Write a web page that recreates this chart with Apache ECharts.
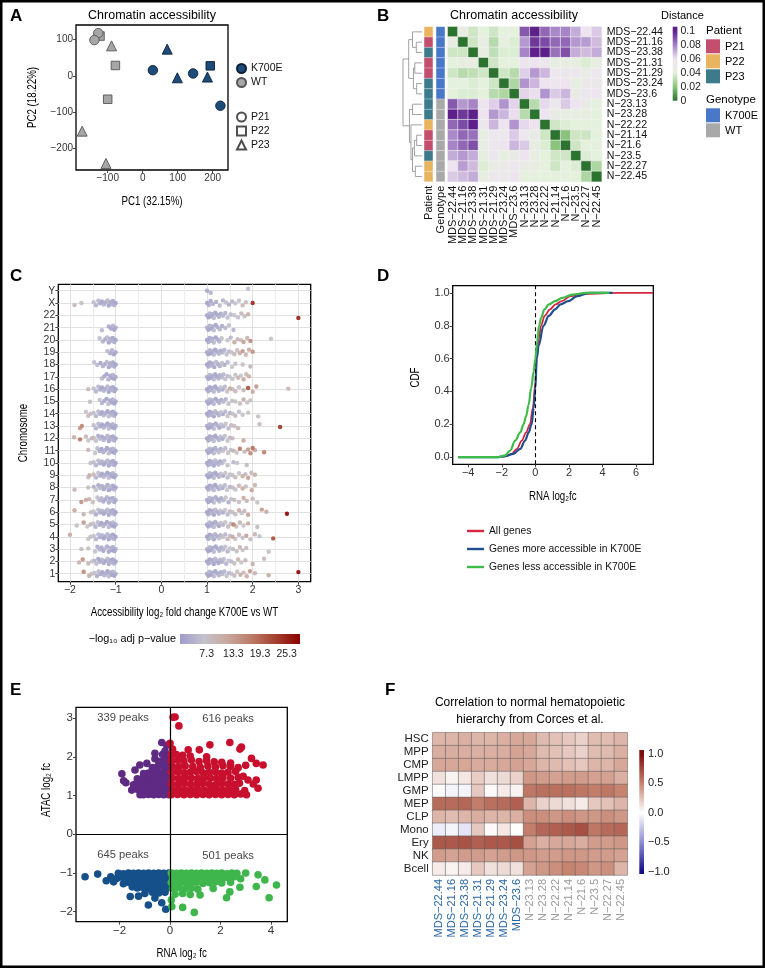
<!DOCTYPE html>
<html>
<head>
<meta charset="utf-8">
<script src="https://cdn.jsdelivr.net/npm/echarts@6.0.0/dist/echarts.min.js"></script>
<style>
html,body{margin:0;padding:0;background:#fff;}
#chart{width:765px;height:968px;}
</style>
</head>
<body>
<div id="chart"></div>
<script>
// ======================= DATA =======================
// Shared samples (order of panels B and F)
const sampleNames = ['MDS-22.44','MDS-21.16','MDS-23.38','MDS-21.31','MDS-21.29','MDS-23.24','MDS-23.6','N-23.13','N-23.28','N-22.22','N-21.14','N-21.6','N-23.5','N-22.27','N-22.45'];
const samplePatient = ['P22','P21','P23','P21','P21','P23','P23','P23','P23','P22','P21','P21','P23','P22','P22'];
const sampleGenotype = ['K700E','K700E','K700E','K700E','K700E','K700E','K700E','WT','WT','WT','WT','WT','WT','WT','WT'];
const patientNames = ['P21','P22','P23'];
const genotypeNames = ['K700E','WT'];

// A: PCA scores per sample
const pc1 = [193, 29, 70, 144, 222, 99, 185, -89, -173, -122, -127, -138, -105, -78, -100];
const pc2 = [28, 16, 74, 7, -82, -5, -3, 83, -152, 110, 118, 99, -241, 29, -64];
const pcTicksX = [-100, 0, 100, 200];
const pcTicksY = [-200, -100, 0, 100];

// B: distance matrix
const distanceMatrix = [
  [0, .045, .035, .04, .035, .04, .04, .088, .1, .085, .078, .079, .071, .06, .065],
  [.045, 0, .035, .045, .03, .042, .038, .075, .095, .091, .085, .085, .075, .074, .068],
  [.035, .035, 0, .045, .032, .038, .038, .079, .1, .1, .083, .09, .071, .068, .071],
  [.04, .045, .045, 0, .035, .04, .04, .057, .058, .055, .045, .045, .043, .038, .045],
  [.035, .03, .032, .035, 0, .035, .03, .064, .075, .069, .055, .056, .055, .049, .055],
  [.04, .042, .038, .04, .035, 0, .028, .076, .069, .058, .055, .058, .044, .053, .053],
  [.04, .038, .038, .04, .03, .028, 0, .063, .061, .076, .065, .069, .048, .055, .058],
  [.088, .075, .079, .057, .064, .076, .063, 0, .03, .062, .056, .065, .058, .048, .042],
  [.1, .095, .1, .058, .075, .069, .061, .03, 0, .06, .048, .046, .045, .045, .04],
  [.085, .091, .1, .055, .069, .058, .076, .062, .06, 0, .035, .038, .04, .04, .04],
  [.078, .085, .083, .045, .055, .055, .065, .056, .048, .035, 0, .02, .035, .035, .04],
  [.079, .085, .09, .045, .056, .058, .069, .065, .046, .038, .02, 0, .035, .04, .042],
  [.071, .075, .071, .043, .055, .044, .048, .058, .045, .04, .035, .035, 0, .038, .04],
  [.06, .074, .068, .038, .049, .053, .055, .048, .045, .04, .035, .04, .038, 0, .028],
  [.065, .068, .071, .045, .055, .053, .058, .042, .04, .04, .04, .042, .04, .028, 0]
];
// hierarchical clustering merges: [nodeA, nodeB, height]; leaves 0-14, new nodes 15+
const dendroMerges = [
  [1, 2, 0.30], [0, 15, 0.50], [3, 4, 0.38], [5, 6, 0.28], [17, 18, 0.45], [16, 19, 0.70],
  [7, 8, 0.50], [10, 11, 0.28], [22, 12, 0.40], [13, 14, 0.35], [23, 24, 0.50], [9, 25, 0.58],
  [21, 26, 0.66], [20, 27, 1.0]
];
const distanceTicks = [0, 0.02, 0.04, 0.06, 0.08, 0.1];

// C: differential peaks per chromosome [log2FC, -log10 adj p]
const chromLabels = ['1','2','3','4','5','6','7','8','9','10','11','12','13','14','15','16','17','18','19','20','21','22','X','Y'];
const peaksDown = [
  [[-1.0,3],[-1.03,2],[-1.06,4],[-1.09,2],[-1.12,3],[-1.15,5],[-1.18,2],[-1.21,3],[-1.25,4],[-1.29,2],[-1.33,3],[-1.37,5],[-1.41,3],[-1.46,6],[-1.52,8],[-1.58,11],[-1.7,16]],
  [[-1.0,2],[-1.03,3],[-1.06,2],[-1.09,4],[-1.12,2],[-1.15,3],[-1.18,5],[-1.22,2],[-1.26,3],[-1.3,4],[-1.34,3],[-1.38,2],[-1.42,5],[-1.47,4],[-1.52,7],[-1.6,9],[-1.72,15],[-1.8,10]],
  [[-1.0,3],[-1.03,2],[-1.06,3],[-1.09,2],[-1.12,4],[-1.15,2],[-1.19,3],[-1.23,5],[-1.27,2],[-1.31,3],[-1.35,4],[-1.4,3],[-1.45,6],[-1.6,8],[-1.75,9]],
  [[-1.0,2],[-1.03,3],[-1.06,2],[-1.09,4],[-1.12,3],[-1.15,2],[-1.18,5],[-1.22,3],[-1.26,2],[-1.3,4],[-1.34,3],[-1.38,5],[-1.43,4],[-1.48,6],[-1.55,8],[-1.6,7],[-2.0,12]],
  [[-1.0,3],[-1.03,2],[-1.06,4],[-1.09,2],[-1.12,3],[-1.15,5],[-1.19,2],[-1.23,3],[-1.27,4],[-1.31,2],[-1.35,3],[-1.39,5],[-1.44,4],[-1.49,6],[-1.55,9],[-1.62,7],[-1.7,14],[-1.85,8]],
  [[-1.0,2],[-1.03,3],[-1.06,2],[-1.09,4],[-1.12,3],[-1.15,2],[-1.18,5],[-1.22,3],[-1.26,2],[-1.3,4],[-1.34,3],[-1.38,5],[-1.43,3],[-1.48,6],[-1.54,8],[-1.7,10],[-1.9,12]],
  [[-1.0,3],[-1.03,2],[-1.06,3],[-1.09,5],[-1.12,2],[-1.15,3],[-1.19,4],[-1.23,2],[-1.27,3],[-1.31,5],[-1.35,4],[-1.4,6],[-1.5,8],[-1.58,10],[-1.65,12],[-1.75,15]],
  [[-1.0,2],[-1.03,4],[-1.06,2],[-1.09,3],[-1.12,5],[-1.15,2],[-1.18,3],[-1.22,4],[-1.26,2],[-1.3,3],[-1.34,5],[-1.38,3],[-1.43,6],[-1.48,4],[-1.6,8],[-1.9,10]],
  [[-1.0,3],[-1.03,2],[-1.06,4],[-1.09,2],[-1.12,3],[-1.15,5],[-1.18,2],[-1.22,3],[-1.26,4],[-1.3,2],[-1.34,3],[-1.38,6],[-1.43,4],[-1.48,9],[-1.57,11],[-1.6,8]],
  [[-1.0,2],[-1.03,3],[-1.06,2],[-1.09,4],[-1.12,3],[-1.15,2],[-1.18,5],[-1.22,3],[-1.26,2],[-1.3,4],[-1.34,3],[-1.38,5],[-1.43,4],[-1.48,6],[-1.55,8]],
  [[-1.0,3],[-1.03,2],[-1.06,4],[-1.09,2],[-1.12,3],[-1.15,5],[-1.19,2],[-1.23,3],[-1.27,4],[-1.31,2],[-1.35,3],[-1.4,5],[-1.45,7],[-1.6,9]],
  [[-1.0,2],[-1.03,3],[-1.06,2],[-1.09,4],[-1.12,3],[-1.15,2],[-1.18,5],[-1.22,3],[-1.26,4],[-1.3,2],[-1.34,5],[-1.38,3],[-1.43,6],[-1.48,8],[-1.52,10],[-1.6,7],[-1.65,9],[-1.78,18],[-1.91,11]],
  [[-1.0,3],[-1.03,2],[-1.06,4],[-1.09,2],[-1.12,3],[-1.15,5],[-1.18,2],[-1.22,3],[-1.26,4],[-1.3,2],[-1.34,3],[-1.38,5],[-1.43,4],[-1.48,6],[-1.74,16],[-1.78,14]],
  [[-1.0,2],[-1.03,3],[-1.06,2],[-1.09,4],[-1.12,3],[-1.15,5],[-1.18,2],[-1.22,3],[-1.26,4],[-1.3,2],[-1.34,3],[-1.38,5],[-1.43,4],[-1.48,6],[-1.55,8],[-1.6,9],[-1.65,7]],
  [[-1.0,3],[-1.03,2],[-1.06,4],[-1.09,2],[-1.12,3],[-1.16,5],[-1.2,2],[-1.25,3],[-1.3,4],[-1.35,6],[-1.56,8]],
  [[-1.0,2],[-1.03,3],[-1.06,2],[-1.09,4],[-1.12,3],[-1.15,2],[-1.18,5],[-1.22,3],[-1.26,4],[-1.3,2],[-1.34,3],[-1.38,5],[-1.43,4],[-1.48,6],[-1.6,9]],
  [[-1.0,3],[-1.03,2],[-1.06,4],[-1.09,2],[-1.12,3],[-1.16,4],[-1.2,2],[-1.25,3],[-1.3,5]],
  [[-1.0,2],[-1.03,3],[-1.06,2],[-1.09,4],[-1.12,3],[-1.15,2],[-1.19,5],[-1.23,3],[-1.28,4],[-1.33,2],[-1.4,5],[-1.47,6]],
  [[-1.0,3],[-1.04,2],[-1.08,4],[-1.12,3],[-1.18,5]],
  [[-1.0,2],[-1.03,3],[-1.06,2],[-1.09,4],[-1.12,3],[-1.15,2],[-1.19,5],[-1.23,3],[-1.28,4],[-1.35,6]],
  [[-1.0,3],[-1.03,2],[-1.06,4],[-1.1,2],[-1.15,3],[-1.3,5]],
  [],
  [[-1.0,2],[-1.03,3],[-1.06,2],[-1.09,4],[-1.12,3],[-1.15,2],[-1.18,5],[-1.22,3],[-1.26,4],[-1.3,2],[-1.34,3],[-1.38,5],[-1.43,4],[-1.48,6],[-1.75,8],[-1.9,10]],
  []
];
const peaksUp = [
  [[1.0,3],[1.03,2],[1.06,4],[1.09,2],[1.12,3],[1.15,5],[1.18,2],[1.22,3],[1.26,4],[1.3,3],[1.34,5],[1.38,4],[1.43,6],[1.48,5],[1.54,7],[1.6,9],[1.66,8],[1.73,11],[1.8,9],[1.87,12],[1.94,14],[2.05,10],[2.35,12],[3.0,28]],
  [[1.0,2],[1.03,3],[1.06,2],[1.09,4],[1.12,3],[1.15,2],[1.18,5],[1.21,3],[1.25,2],[1.29,4],[1.33,3],[1.37,6],[1.42,4],[1.47,7],[1.53,5],[1.6,8],[1.68,10],[1.75,7],[1.84,9],[2.0,11],[2.25,9]],
  [[1.0,3],[1.03,2],[1.06,4],[1.09,2],[1.12,3],[1.15,5],[1.19,2],[1.23,3],[1.27,4],[1.31,3],[1.35,5],[1.4,6],[1.45,4],[1.5,7],[1.57,5],[1.65,8],[1.72,10],[1.78,7],[1.86,9],[2.35,8]],
  [[1.0,2],[1.03,3],[1.06,2],[1.09,5],[1.12,3],[1.15,2],[1.18,4],[1.22,3],[1.26,6],[1.3,4],[1.35,8],[1.4,5],[1.45,9],[1.5,6],[1.56,12],[1.62,7],[1.7,9],[1.78,6],[1.86,13],[1.95,8],[2.05,10],[2.15,7],[2.45,22]],
  [[1.0,3],[1.03,2],[1.06,4],[1.09,3],[1.12,2],[1.15,5],[1.18,3],[1.22,4],[1.26,2],[1.3,6],[1.35,4],[1.4,7],[1.46,9],[1.52,6],[1.58,17],[1.64,8],[1.72,10],[1.8,7],[1.9,12],[2.1,9]],
  [[1.0,2],[1.03,3],[1.06,2],[1.09,4],[1.12,3],[1.15,2],[1.18,5],[1.22,3],[1.26,4],[1.3,6],[1.35,3],[1.4,7],[1.45,5],[1.5,9],[1.56,6],[1.62,8],[1.7,11],[1.76,7],[1.82,9],[1.9,13],[2.2,14],[2.3,12],[2.75,28]],
  [[1.0,3],[1.03,2],[1.06,4],[1.09,2],[1.12,3],[1.15,5],[1.19,3],[1.23,2],[1.27,4],[1.31,3],[1.36,5],[1.41,7],[1.47,4],[1.53,6],[1.6,9],[1.7,8],[1.8,12],[1.87,10],[2.0,9],[2.1,7]],
  [[1.0,2],[1.03,3],[1.06,2],[1.09,4],[1.12,3],[1.15,5],[1.18,2],[1.22,3],[1.26,4],[1.3,6],[1.34,3],[1.39,5],[1.44,7],[1.5,4],[1.56,8],[1.62,6],[1.7,9],[1.78,11],[1.85,8],[1.98,13],[2.05,10]],
  [[1.0,3],[1.03,2],[1.06,4],[1.09,2],[1.12,3],[1.15,5],[1.18,3],[1.22,2],[1.26,4],[1.3,6],[1.35,3],[1.4,7],[1.45,5],[1.5,8],[1.56,6],[1.62,9],[1.7,7],[1.78,11],[1.84,8],[1.9,13],[1.97,9],[2.05,11]],
  [[1.0,2],[1.03,3],[1.06,2],[1.09,4],[1.12,3],[1.15,2],[1.18,5],[1.21,3],[1.25,4],[1.29,2],[1.33,5],[1.38,6],[1.45,8],[1.58,5],[1.66,7],[1.87,9]],
  [[1.0,3],[1.03,2],[1.06,4],[1.09,3],[1.12,2],[1.15,5],[1.18,3],[1.22,4],[1.26,6],[1.3,3],[1.35,7],[1.4,5],[1.46,8],[1.52,6],[1.58,10],[1.65,7],[1.72,18],[1.82,9],[1.9,14],[1.95,16],[2.0,19],[2.05,12],[2.25,17]],
  [[1.0,2],[1.03,3],[1.06,2],[1.09,4],[1.12,3],[1.15,5],[1.18,2],[1.22,3],[1.26,4],[1.3,5],[1.34,3],[1.39,6],[1.45,7],[1.5,5],[1.56,9],[1.8,12]],
  [[1.0,3],[1.03,2],[1.06,4],[1.09,2],[1.12,3],[1.15,5],[1.19,3],[1.23,4],[1.27,2],[1.31,6],[1.36,4],[1.41,7],[1.47,5],[1.53,9],[1.6,6],[1.68,10],[2.15,9],[2.6,24]],
  [[1.0,2],[1.03,3],[1.06,2],[1.09,4],[1.12,3],[1.15,2],[1.18,5],[1.22,3],[1.26,4],[1.3,6],[1.35,3],[1.4,5],[1.45,8],[1.5,4],[1.56,7],[1.62,9],[1.7,6],[1.78,8],[1.9,7],[2.12,8]],
  [[1.0,3],[1.03,2],[1.06,4],[1.09,2],[1.12,3],[1.15,5],[1.19,2],[1.23,3],[1.27,4],[1.31,3],[1.36,5],[1.41,4],[1.47,6],[1.55,8],[1.62,7],[1.72,9],[1.8,11],[1.88,7],[1.95,8]],
  [[1.0,2],[1.03,3],[1.06,2],[1.09,4],[1.12,3],[1.15,5],[1.18,2],[1.22,3],[1.26,4],[1.3,6],[1.34,3],[1.39,5],[1.44,8],[1.5,12],[1.56,6],[1.62,9],[1.7,7],[1.8,10],[1.9,22],[2.0,12],[2.08,14],[2.78,10]],
  [[1.0,3],[1.03,2],[1.06,4],[1.09,2],[1.12,3],[1.15,5],[1.18,3],[1.21,2],[1.25,4],[1.28,3],[1.32,5],[1.36,4],[1.4,6],[1.45,5],[1.5,7],[1.56,6],[1.62,8],[1.68,10],[1.74,7],[1.8,12],[1.86,9],[1.92,11]],
  [[1.0,2],[1.03,3],[1.06,2],[1.09,4],[1.12,3],[1.16,2],[1.2,5],[1.24,3],[1.28,4],[1.33,6],[1.38,3],[1.45,5],[1.55,7],[1.62,6],[1.78,8],[1.95,10]],
  [[1.0,3],[1.03,2],[1.06,4],[1.09,2],[1.12,3],[1.15,5],[1.18,2],[1.22,3],[1.26,4],[1.3,3],[1.34,5],[1.38,4],[1.43,6],[1.48,5],[1.54,7],[1.6,9],[1.66,8],[1.72,11],[1.78,14],[1.85,10],[1.92,12],[2.0,15]],
  [[1.0,2],[1.03,3],[1.06,2],[1.09,4],[1.12,3],[1.15,5],[1.19,2],[1.23,3],[1.27,4],[1.32,6],[1.45,7],[1.52,5],[1.6,12],[1.67,9],[1.74,8],[1.8,13],[1.88,10],[1.95,16],[2.4,7]],
  [[1.0,3],[1.03,2],[1.06,4],[1.09,2],[1.12,3],[1.15,5],[1.19,2],[1.23,3],[1.28,4],[1.33,3],[1.4,5],[1.48,6],[1.58,4]],
  [[1.0,3],[1.03,2],[1.06,4],[1.09,2],[1.12,3],[1.15,5],[1.18,2],[1.22,3],[1.26,4],[1.3,3],[1.35,5],[1.4,4],[1.45,6],[1.52,5],[1.6,7],[1.68,6],[1.75,9],[1.82,8],[1.9,11],[3.0,26]],
  [[1.0,2],[1.04,3],[1.08,2],[1.13,4],[1.2,3],[1.28,5],[1.35,4],[1.42,6],[1.48,3],[1.55,5],[1.62,7],[1.7,6],[1.78,9],[1.85,8],[2.0,25]],
  [[1.0,3],[1.08,4],[1.9,6]]
];
const pvalTicks = [7.3, 13.3, 19.3, 25.3];

// D: cumulative distributions of RNA log2fc
const cdfAllX  = [-4.6,-2.2,-1.8,-1.4,-1.1,-0.81,-0.55,-0.32,-0.15,0,0.08,0.2,0.34,0.55,0.87,1.2,1.57,2.1,3.0,5.0,7.0];
const cdfAllY  = [0,0,0.005,0.02,0.05,0.1,0.15,0.2,0.3,0.45,0.6,0.72,0.8,0.86,0.9,0.93,0.95,0.98,0.995,1,1];
const cdfMoreX = [-4.6,-2.2,-1.8,-1.3,-0.9,-0.61,-0.4,-0.22,-0.1,0,0.08,0.2,0.48,0.8,1.17,1.5,1.96,2.5,3.2,4.6];
const cdfMoreY = [0,0,0.005,0.02,0.05,0.1,0.15,0.2,0.3,0.42,0.6,0.68,0.8,0.86,0.9,0.93,0.95,0.98,1,1];
const cdfLessX = [-4.6,-2.2,-1.8,-1.5,-1.2,-0.9,-0.7,-0.55,-0.4,-0.25,-0.1,0,0.1,0.22,0.35,0.54,0.8,1.17,1.6,2.2,3.0,4.4];
const cdfLessY = [0,0,0.01,0.04,0.1,0.15,0.2,0.25,0.32,0.42,0.52,0.6,0.7,0.8,0.85,0.9,0.93,0.95,0.97,0.99,1,1];
const cdfNames = ['All genes','Genes more accessible in K700E','Genes less accessible in K700E'];

// E: RNA log2fc vs ATAC log2fc for differential peaks
const upNegPeaks = [[-0.05,1.02],[-0.25,1.02],[-0.45,1.03],[-0.65,1.02],[-0.85,1.03],[-1.05,1.02],[-1.19,1.02],
  [-0.1,1.15],[-0.3,1.16],[-0.5,1.14],[-0.7,1.16],[-0.9,1.15],[-1.1,1.14],[-1.3,1.16],[-1.52,1.14],
  [-0.05,1.3],[-0.25,1.29],[-0.45,1.31],[-0.65,1.3],[-0.85,1.29],[-1.05,1.31],[-1.25,1.3],[-1.45,1.28],[-1.75,1.33],[-1.84,1.38],
  [-0.1,1.45],[-0.3,1.46],[-0.5,1.44],[-0.7,1.45],[-0.9,1.46],[-1.1,1.44],[-1.3,1.43],
  [-0.05,1.6],[-0.25,1.61],[-0.45,1.59],[-0.65,1.6],[-0.85,1.58],[-1.05,1.57],[-1.39,1.66],[-1.91,1.56],
  [-0.1,1.75],[-0.3,1.76],[-0.5,1.74],[-0.7,1.72],[-0.92,1.83],[-1.2,1.79],
  [-0.05,1.9],[-0.25,1.91],[-0.45,1.88],[-0.6,1.95],[-0.1,2.05],[-0.3,2.06],[-0.6,2.09],[-0.2,2.15],[-0.33,2.37],[-0.13,2.3]];
const upPosPeaks = [[0.05,1.02],[0.3,1.03],[0.55,1.02],[0.8,1.03],[1.05,1.02],[1.3,1.03],[1.55,1.02],[1.8,1.03],[2.05,1.02],[2.3,1.03],[2.55,1.02],[2.8,1.04],[3.03,1.02],
  [0.1,1.15],[0.35,1.16],[0.6,1.14],[0.85,1.15],[1.1,1.16],[1.35,1.14],[1.6,1.15],[1.85,1.16],[2.1,1.14],[2.35,1.15],[2.6,1.16],[2.96,1.13],[3.49,1.19],
  [0.05,1.3],[0.3,1.29],[0.55,1.31],[0.8,1.3],[1.05,1.29],[1.3,1.31],[1.55,1.3],[1.8,1.28],[2.05,1.31],[2.3,1.3],[2.55,1.29],[2.75,1.32],[3.3,1.3],[3.09,1.4],[3.42,1.4],
  [0.1,1.45],[0.35,1.44],[0.6,1.46],[0.85,1.45],[1.1,1.44],[1.35,1.46],[1.6,1.45],[1.85,1.44],[2.1,1.46],[2.4,1.45],[2.7,1.47],[2.9,1.5],
  [0.05,1.6],[0.3,1.61],[0.55,1.59],[0.8,1.6],[1.05,1.62],[1.3,1.59],[1.55,1.6],[1.8,1.61],[2.05,1.58],[2.3,1.6],[2.6,1.62],
  [0.1,1.75],[0.35,1.74],[0.6,1.76],[0.9,1.75],[1.2,1.73],[1.5,1.76],[1.8,1.74],[2.1,1.77],[2.4,1.75],[2.7,1.72],[3.0,1.78],[3.42,1.83],[3.69,1.79],
  [0.05,1.9],[0.3,1.91],[0.55,1.89],[0.85,1.92],[1.15,1.88],[1.45,1.9],[1.75,1.87],[2.05,1.86],[2.4,1.84],[3.23,1.96],
  [0.05,2.05],[0.25,2.06],[0.5,2.04],[0.8,2.02],[1.16,2.18],[1.45,2.0],[2.77,2.2],[2.83,2.25],
  [0.0,2.35],[0.12,3.02],[0.2,3.03],[0.35,2.8],[1.58,2.31],[2.37,2.37],[0.72,2.18],[0.1,2.2]];
const downNegPeaks = [[-0.05,-1.0],[-0.25,-1.01],[-0.45,-1.0],[-0.65,-1.01],[-0.85,-1.0],[-1.05,-1.01],[-1.25,-1.0],[-1.45,-1.01],[-1.65,-1.0],[-1.85,-1.02],[-2.05,-1.01],[-2.87,-1.03],
  [-0.1,-1.12],[-0.3,-1.13],[-0.5,-1.12],[-0.7,-1.11],[-0.9,-1.13],[-1.1,-1.12],[-1.3,-1.11],[-1.5,-1.13],[-1.7,-1.12],[-1.9,-1.11],[-2.1,-1.14],[-2.35,-1.1],[-3.37,-1.1],
  [-0.05,-1.25],[-0.25,-1.26],[-0.45,-1.24],[-0.65,-1.25],[-0.85,-1.26],[-1.05,-1.24],[-1.25,-1.25],[-1.45,-1.27],[-1.65,-1.24],[-1.85,-1.28],[-2.24,-1.23],[-2.53,-1.2],
  [-0.1,-1.38],[-0.3,-1.39],[-0.5,-1.37],[-0.7,-1.38],[-0.9,-1.4],[-1.1,-1.37],[-1.3,-1.39],[-1.5,-1.36],
  [-0.2,-1.5],[-0.45,-1.52],[-0.7,-1.5],[-1.0,-1.53],[-1.25,-1.6],[-1.58,-1.61],
  [-0.33,-1.77],[-0.6,-1.65],[-0.86,-1.83],[-0.17,-1.94],[-0.05,-1.3]];
const downPosPeaks = [[0.05,-1.0],[0.25,-1.01],[0.45,-1.0],[0.65,-1.01],[0.85,-1.0],[1.05,-1.01],[1.25,-1.0],[1.45,-1.01],[1.65,-1.0],[1.85,-1.01],[2.05,-1.0],[2.25,-1.02],[2.45,-1.0],[2.65,-1.01],[3.0,-1.0],[3.49,-1.05],
  [0.1,-1.12],[0.3,-1.13],[0.5,-1.11],[0.7,-1.12],[0.9,-1.13],[1.1,-1.12],[1.3,-1.11],[1.5,-1.13],[1.7,-1.12],[1.9,-1.11],[2.1,-1.14],[2.3,-1.12],[2.55,-1.1],[2.8,-1.15],[3.76,-1.18],
  [0.05,-1.25],[0.25,-1.26],[0.45,-1.24],[0.65,-1.25],[0.85,-1.26],[1.05,-1.24],[1.3,-1.27],[1.55,-1.25],[1.8,-1.23],[2.05,-1.26],[2.4,-1.24],[4.22,-1.31],
  [0.1,-1.4],[0.35,-1.38],[0.6,-1.41],[0.85,-1.39],[1.1,-1.42],[1.71,-1.4],[2.77,-1.37],[3.42,-1.35],
  [0.2,-1.55],[0.5,-1.53],[0.8,-1.56],[1.19,-1.57],[2.24,-1.64],[2.37,-1.49],[3.93,-1.64],
  [0.07,-1.87],[0.5,-1.89],[0.96,-2.02],[0.05,-1.7]];
const peakCounts = [339, 616, 645, 501];

// F: correlation to normal hematopoietic populations (rows) per sample (cols)
const cellTypes = ['HSC','MPP','CMP','LMPP','GMP','MEP','CLP','Mono','Ery','NK','Bcell'];
const corrMatrix = [
  [0.30,0.30,0.32,0.30,0.30,0.32,0.35, 0.35,0.28,0.25,0.22,0.18,0.27,0.27,0.30],
  [0.33,0.33,0.33,0.32,0.32,0.33,0.37, 0.35,0.28,0.25,0.22,0.18,0.27,0.28,0.32],
  [0.35,0.35,0.36,0.34,0.34,0.35,0.38, 0.35,0.30,0.28,0.25,0.22,0.30,0.30,0.35],
  [0.12,0.05,0.10,0.20,0.12,0.15,0.18, 0.42,0.40,0.38,0.40,0.40,0.38,0.38,0.32],
  [0.02,-0.05,-0.05,0.22,0.02,0.08,0.05, 0.55,0.58,0.58,0.58,0.55,0.52,0.55,0.50],
  [0.60,0.60,0.62,0.52,0.58,0.60,0.65, 0.30,0.18,0.15,0.12,0.08,0.22,0.25,0.30],
  [0.30,0.27,0.30,0.33,0.30,0.30,0.32, 0.45,0.45,0.42,0.45,0.42,0.42,0.45,0.42],
  [-0.08,-0.05,-0.12,0.22,0.02,0.10,0.00, 0.52,0.62,0.65,0.68,0.72,0.55,0.60,0.62],
  [0.68,0.68,0.70,0.65,0.68,0.68,0.72, 0.38,0.32,0.35,0.35,0.33,0.40,0.40,0.42],
  [0.40,0.37,0.40,0.40,0.38,0.40,0.42, 0.42,0.40,0.40,0.42,0.42,0.40,0.40,0.38],
  [0.08,0.05,0.08,0.22,0.12,0.15,0.12, 0.38,0.42,0.45,0.50,0.48,0.42,0.45,0.30]
];
const corrTicks = [-1, -0.5, 0, 0.5, 1];

// ======================= STYLE / LAYOUT =======================
const FONT = '"Liberation Sans", Arial, Helvetica, sans-serif';
const MINUS = '\u2212';
const fm = v => String(v).replace('-', MINUS);
const patientColor = { P21: '#c44e6d', P22: '#e8b460', P23: '#3d7b8c' };
const genotypeColor = { K700E: '#4a78c9', WT: '#a9a9a9' };
const pcaColor = { K700E: '#1d4c7b', WT: '#a6a6a6' };
const patientSymbol = { P21: 'circle', P22: 'rect', P23: 'triangle' };
const patientSymbolSize = { P21: 9.5, P22: 8.5, P23: 10 };
const distanceColors = ['#2c7330', '#8ac47c', '#e4f1dc', '#eee3f1', '#a27fc4', '#5d208b'];
const pvalColors = ['#9d9dcb', '#c4c2cc', '#c8a79c', '#bb7a66', '#a3402d', '#8b0000'];
const corrColors = ['#10108a', '#8e8ed2', '#ffffff', '#c6836f', '#7d0c0c'];
const eColors = { upNeg: '#5e2a84', upPos: '#c8102e', downNeg: '#16508a', downPos: '#3fb64c' };
const cdfColors = ['#d6263f', '#1f4f8d', '#3fbb4b'];
const jitterPattern = [0, -0.17, 0.16, -0.08, 0.09, -0.21, 0.21, 0.04, -0.13, 0.13, -0.03, 0.19, -0.19, 0.06];

const G = [
  { left: 76, top: 25, width: 152, height: 145 },          // 0 A
  { left: 403, top: 26.7, width: 19, height: 155 },        // 1 B dendrogram
  { left: 422.5, top: 26.7, width: 24, height: 155 },      // 2 B annotation
  { left: 447.7, top: 26.7, width: 154, height: 155 },     // 3 B heatmap
  { left: 672.7, top: 26.7, width: 4.7, height: 74 },      // 4 B colorbar
  { left: 58.3, top: 284.3, width: 252.4, height: 297.4 }, // 5 C
  { left: 180, top: 634, width: 120, height: 10 },         // 6 C colorbar
  { left: 452.7, top: 285.7, width: 200.6, height: 178.6 },// 7 D
  { left: 76, top: 707.3, width: 211.3, height: 214.4 },   // 8 E
  { left: 432.7, top: 732.7, width: 194.6, height: 142.3 },// 9 F heatmap
  { left: 639.3, top: 750, width: 4.7, height: 124 }       // 10 F colorbar
];
const boxed = [0, 5, 7, 8];
const grids = G.map((g, i) => Object.assign({}, g, {
  show: boxed.includes(i), borderColor: '#000', borderWidth: 1.3, backgroundColor: 'transparent',
  containLabel: false, outerBoundsMode: 'none'
}));

function numAxis(gi, min, max, ticks, fmt, size, extra) {
  return Object.assign({
    type: 'value', gridIndex: gi, min: min, max: max,
    axisLine: { show: false, onZero: false }, splitLine: { show: false },
    axisTick: { show: true, length: 3, customValues: ticks, lineStyle: { color: '#333', width: 0.9 } },
    axisLabel: { customValues: ticks, formatter: fmt, color: '#333', fontFamily: FONT, fontSize: size, margin: 3 }
  }, extra || {});
}
function hiddenAxis(gi, min, max, extra) {
  return Object.assign({ type: 'value', gridIndex: gi, min: min, max: max, show: false, axisLine: { onZero: false } }, extra || {});
}

const xAxes = [], yAxes = [];
// A
xAxes.push(numAxis(0, -190.6, 243.7, pcTicksX, fm, 10));
yAxes.push(numAxis(0, -259, 140.5, pcTicksY, fm, 10));
// B dendrogram
xAxes.push(hiddenAxis(1, 0, 1, { inverse: true }));
yAxes.push(hiddenAxis(1, -0.5, 14.5, { inverse: true }));
// B annotation
xAxes.push({ type: 'category', gridIndex: 2, data: ['Patient', 'Genotype'], axisLine: { show: false }, axisTick: { show: false },
  axisLabel: { rotate: 90, interval: 0, fontSize: 11, fontFamily: FONT, color: '#111', margin: 4 } });
yAxes.push({ type: 'category', gridIndex: 2, data: sampleNames, inverse: true, show: false });
// B heatmap
xAxes.push({ type: 'category', gridIndex: 3, data: sampleNames, axisLine: { show: false }, axisTick: { show: false }, splitArea: { show: false },
  axisLabel: { rotate: 90, interval: 0, fontSize: 11, fontFamily: FONT, color: '#111', margin: 4, formatter: fm } });
yAxes.push({ type: 'category', gridIndex: 3, data: sampleNames, inverse: true, position: 'right', axisLine: { show: false }, axisTick: { show: false }, splitArea: { show: false },
  axisLabel: { interval: 0, fontSize: 10.6, fontFamily: FONT, color: '#111', margin: 5, formatter: fm } });
// B colorbar
xAxes.push(hiddenAxis(4, 0, 1));
yAxes.push(numAxis(4, 0, 0.106, distanceTicks, v => String(v), 10.5, { position: 'right',
  axisTick: { show: true, inside: true, length: 1.5, customValues: distanceTicks, lineStyle: { color: '#fff' } },
  axisLabel: { customValues: distanceTicks, formatter: v => String(v), color: '#222', fontFamily: FONT, fontSize: 10.5, margin: 3 } }));
// C
xAxes.push(numAxis(5, -2.255, 3.27, [-2, -1, 0, 1, 2, 3], fm, 10.5));
yAxes.push(numAxis(5, -0.65, 23.52, chromLabels.map((c, i) => i), v => chromLabels[Math.round(v)], 10.5));
// C colorbar
xAxes.push(numAxis(6, 1.3, 28.3, pvalTicks, v => v.toFixed(1), 10.5, { axisTick: { show: true, inside: true, length: 3, customValues: pvalTicks, lineStyle: { color: '#fff', width: 1 } },
  axisLabel: { customValues: pvalTicks, formatter: v => v.toFixed(1), color: '#222', fontFamily: FONT, fontSize: 10.5, margin: 5 } }));
yAxes.push(hiddenAxis(6, 0, 1));
// D
xAxes.push(numAxis(7, -4.92, 7.02, [-4, -2, 0, 2, 4, 6], fm, 11));
yAxes.push(numAxis(7, -0.044, 1.044, [0, 0.2, 0.4, 0.6, 0.8, 1.0], v => v.toFixed(1), 11));
// E
xAxes.push(numAxis(8, -3.73, 4.65, [-2, 0, 2, 4], fm, 11.5));
yAxes.push(numAxis(8, -2.26, 3.28, [-2, -1, 0, 1, 2, 3], fm, 11.5));
// F heatmap
xAxes.push({ type: 'category', gridIndex: 9, data: sampleNames, axisLine: { show: false }, axisTick: { show: false }, splitArea: { show: false },
  axisLabel: { rotate: 90, interval: 0, fontSize: 11, fontFamily: FONT, margin: 4, formatter: fm,
    color: (v) => (String(v).indexOf('MDS') === 0 ? '#2a67a5' : '#9b9b9b') } });
yAxes.push({ type: 'category', gridIndex: 9, data: cellTypes, inverse: true, axisLine: { show: false }, axisTick: { show: false }, splitArea: { show: false },
  axisLabel: { interval: 0, fontSize: 11.5, fontFamily: FONT, color: '#222', margin: 4 } });
// F colorbar
xAxes.push(hiddenAxis(10, 0, 1));
yAxes.push(numAxis(10, -1.04, 1.065, corrTicks, v => fm(v.toFixed(1)), 11, { position: 'right', axisTick: { show: false },
  axisLabel: { customValues: corrTicks, formatter: v => fm(v.toFixed(1)), color: '#222', fontFamily: FONT, fontSize: 11, margin: 4 } }));

// ======================= SERIES =======================
const series = [];
// ---- A
['WT', 'K700E'].forEach(g => {
  const items = [];
  sampleNames.forEach((s, i) => {
    if (sampleGenotype[i] !== g) return;
    const p = samplePatient[i];
    items.push({ name: s, value: [pc1[i], pc2[i]], symbol: patientSymbol[p], symbolSize: patientSymbolSize[p] });
  });
  series.push({ type: 'scatter', name: g, xAxisIndex: 0, yAxisIndex: 0, data: items, z: g === 'WT' ? 3 : 4,
    itemStyle: { color: pcaColor[g], borderColor: g === 'WT' ? '#555' : '#0c1f36', borderWidth: 0.9, opacity: 1 } });
});
patientNames.forEach(p => series.push({ type: 'scatter', name: p, xAxisIndex: 0, yAxisIndex: 0, data: [], symbol: patientSymbol[p],
  itemStyle: { color: '#fff', borderColor: '#222', borderWidth: 1 } }));

// ---- B dendrogram
const nodeY = sampleNames.map((s, i) => i);
const nodeH = sampleNames.map(() => 0);
dendroMerges.forEach(m => { nodeY.push((nodeY[m[0]] + nodeY[m[1]]) / 2); nodeH.push(m[2]); });
series.push({ type: 'custom', xAxisIndex: 1, yAxisIndex: 1, silent: true,
  data: dendroMerges.map((m, i) => [m[2], nodeY[sampleNames.length + i]]),
  renderItem: (params, api) => {
    const m = dendroMerges[params.dataIndex];
    const pts = [[nodeH[m[0]], nodeY[m[0]]], [m[2], nodeY[m[0]]], [m[2], nodeY[m[1]]], [nodeH[m[1]], nodeY[m[1]]]].map(p => api.coord(p));
    return { type: 'polyline', shape: { points: pts }, style: { stroke: '#8a8a8a', lineWidth: 0.8, fill: null } };
  } });
// ---- B annotation columns
const annotData = [];
sampleNames.forEach((s, i) => { annotData.push([0, i, patientColor[samplePatient[i]]]); annotData.push([1, i, genotypeColor[sampleGenotype[i]]]); });
series.push({ type: 'custom', xAxisIndex: 2, yAxisIndex: 2, silent: true, data: annotData.map(d => [d[0], d[1]]),
  renderItem: (params, api) => {
    const c = api.coord([api.value(0), api.value(1)]);
    const sz = api.size([1, 1]);
    return { type: 'rect', shape: { x: c[0] - 4.4, y: c[1] - sz[1] / 2, width: 8.8, height: sz[1] },
      style: { fill: annotData[params.dataIndex][2], stroke: 'rgba(255,255,255,0.6)', lineWidth: 0.4 } };
  } });
// ---- B heatmap
const heatBData = [];
distanceMatrix.forEach((row, r) => row.forEach((v, c) => heatBData.push([c, r, v])));
const idxHeatB = series.length;
series.push({ type: 'heatmap', xAxisIndex: 3, yAxisIndex: 3, data: heatBData, silent: true,
  itemStyle: { borderColor: '#f2f2f2', borderWidth: 0.6 }, emphasis: { disabled: true } });

// colorbar helper
function colorbarSeries(ai, vertical, lo, hi, vmin, vmax, colors) {
  const n = colors.length;
  return { type: 'custom', xAxisIndex: ai, yAxisIndex: ai, silent: true, data: [[0, 0]],
    renderItem: (params, api) => {
      const a = vertical ? api.coord([0, lo]) : api.coord([lo, 0]);
      const b = vertical ? api.coord([1, hi]) : api.coord([hi, 1]);
      const x = Math.min(a[0], b[0]), y = Math.min(a[1], b[1]);
      const w = Math.abs(b[0] - a[0]), h = Math.abs(b[1] - a[1]);
      const stops = [{ offset: 0, color: colors[0] }];
      colors.forEach((col, k) => {
        const v = vmin + k * (vmax - vmin) / (n - 1);
        stops.push({ offset: Math.max(0, Math.min(1, (v - lo) / (hi - lo))), color: col });
      });
      stops.push({ offset: 1, color: colors[n - 1] });
      const fill = vertical ? { type: 'linear', x: 0, y: 1, x2: 0, y2: 0, colorStops: stops }
                            : { type: 'linear', x: 0, y: 0, x2: 1, y2: 0, colorStops: stops };
      return { type: 'rect', shape: { x: x, y: y, width: w, height: h }, style: { fill: fill } };
    } };
}
series.push(colorbarSeries(4, true, 0, 0.106, 0, 0.1, distanceColors));

// ---- C strip plot
const stripPoints = [];
chromLabels.forEach((c, ci) => {
  [peaksDown[ci], peaksUp[ci]].forEach(list => list.forEach((pt, k) => {
    stripPoints.push([pt[0], ci + jitterPattern[k % jitterPattern.length], pt[1]]);
  }));
});
stripPoints.sort((a, b) => a[2] - b[2]);
const gridLinesC = [];
chromLabels.forEach((c, i) => gridLinesC.push({ yAxis: i }));
[-2, -1.5, -1, -0.5, 0, 0.5, 1, 1.5, 2, 2.5, 3].forEach(v => gridLinesC.push({ xAxis: v, lineStyle: { color: Number.isInteger(v) ? '#dedede' : '#ececec' } }));
const idxStrip = series.length;
series.push({ type: 'scatter', xAxisIndex: 5, yAxisIndex: 5, data: stripPoints, symbolSize: 4.4, silent: true, z: 3,
  itemStyle: { opacity: 0.9 },
  markLine: { silent: true, symbol: ['none', 'none'], label: { show: false }, z: 1, animation: false,
    lineStyle: { color: '#dedede', width: 0.9, type: 'solid' }, data: gridLinesC } });
series.push(colorbarSeries(6, false, 1.3, 28.3, 1.3, 28.3, pvalColors));

// ---- D CDF
[[cdfAllX, cdfAllY], [cdfMoreX, cdfMoreY], [cdfLessX, cdfLessY]].forEach((xy, k) => {
  series.push({ type: 'line', name: cdfNames[k], xAxisIndex: 7, yAxisIndex: 7, data: xy[0].map((x, i) => [x, xy[1][i]]),
    showSymbol: false, symbol: 'none', smooth: 0.35, smoothMonotone: 'x', silent: true, z: 3 + k,
    lineStyle: { color: cdfColors[k], width: k === 0 ? 1.8 : 2.2 }, itemStyle: { color: cdfColors[k] },
    markLine: k === 0 ? { silent: true, symbol: ['none', 'none'], label: { show: false }, animation: false,
      lineStyle: { color: '#000', width: 1.1, type: [4, 3] }, data: [{ xAxis: 0 }] } : undefined });
});

// ---- E scatter
[['upNeg', upNegPeaks], ['upPos', upPosPeaks], ['downNeg', downNegPeaks], ['downPos', downPosPeaks]].forEach((s, k) => {
  series.push({ type: 'scatter', xAxisIndex: 8, yAxisIndex: 8, data: s[1], symbolSize: 7.6, silent: true, z: 3,
    itemStyle: { color: eColors[s[0]], opacity: 1 },
    markLine: k === 0 ? { silent: true, symbol: ['none', 'none'], label: { show: false }, z: 6, animation: false,
      lineStyle: { color: '#000', width: 1.2, type: 'solid' }, data: [{ xAxis: 0 }, { yAxis: 0 }] } : undefined });
});
const peakLabelAnchor = [[-1.86, 3.0], [2.3, 2.97], [-1.86, -0.53], [2.3, -0.55]];
series.push({ type: 'scatter', xAxisIndex: 8, yAxisIndex: 8, symbolSize: 1, silent: true, z: 8,
  itemStyle: { color: 'rgba(0,0,0,0)' },
  data: peakCounts.map((n, i) => ({ value: peakLabelAnchor[i], label: { formatter: n + ' peaks' } })),
  label: { show: true, position: 'inside', fontFamily: FONT, fontSize: 11.2, color: '#111' } });

// ---- F heatmap
const heatFData = [];
corrMatrix.forEach((row, r) => row.forEach((v, c) => heatFData.push([c, r, v])));
const idxHeatF = series.length;
series.push({ type: 'heatmap', xAxisIndex: 9, yAxisIndex: 9, data: heatFData, silent: true,
  itemStyle: { borderColor: '#5a5a5a', borderWidth: 0.5 }, emphasis: { disabled: true } });
series.push(colorbarSeries(10, true, -1.04, 1.065, -1, 1, corrColors));

// ======================= GRAPHIC (titles, letters, legends, axis titles) =======================
const txt = (x, y, text, font, align, extra) => Object.assign({ type: 'text', x: x, y: y, silent: true,
  style: { text: text, font: font, fill: '#000', align: align || 'left', verticalAlign: 'middle' } }, extra || {});
const letterFont = 'bold 17px ' + FONT;
const narrowFont = '13.5px ' + FONT;
const narrowX = (x, y, t) => txt(x, y, t, narrowFont, 'center', { scaleX: 0.72 });
const narrowY = (x, y, t) => txt(x, y, t, narrowFont, 'center', { rotation: Math.PI / 2, scaleX: 0.72 });
const graphic = [
  { type: 'rect', shape: { x: 1.25, y: 1.25, width: 762.5, height: 965.5 }, style: { fill: null, stroke: '#000', lineWidth: 2.5 }, silent: true, z: 100 },
  txt(10, 16, 'A', letterFont), txt(377, 16, 'B', letterFont), txt(10, 276, 'C', letterFont),
  txt(377, 276, 'D', letterFont), txt(10, 690, 'E', letterFont), txt(385, 690, 'F', letterFont),
  txt(152, 16, 'Chromatin accessibility', '12.5px ' + FONT, 'center'),
  txt(514, 16, 'Chromatin accessibility', '12.5px ' + FONT, 'center'),
  txt(530, 703, 'Correlation to normal hematopoietic', '12px ' + FONT, 'center'),
  txt(530, 720, 'hierarchy from Corces et al.', '12px ' + FONT, 'center'),
  txt(176, 639, MINUS + 'log\u2081\u2080 adj p' + MINUS + 'value', '10.8px ' + FONT, 'right'),
  txt(661, 16, 'Distance', '11px ' + FONT),
  txt(706, 31, 'Patient', '11.5px ' + FONT),
  txt(706, 100, 'Genotype', '11.5px ' + FONT),
  // axis titles (condensed)
  narrowX(152, 201, 'PC1 (32.15%)'),
  narrowY(32, 97.5, 'PC2 (18.22%)'),
  narrowX(184.5, 612.5, 'Accessibility log\u2082 fold change K700E vs WT'),
  narrowY(23, 433, 'Chromosome'),
  narrowX(552.8, 496, 'RNA log\u2082fc'),
  narrowY(415, 377.5, 'CDF'),
  narrowX(181.7, 953, 'RNA log\u2082 fc'),
  narrowY(46.7, 790, 'ATAC log\u2082 fc')
];
patientNames.forEach((p, i) => {
  graphic.push({ type: 'rect', shape: { x: 706, y: 39.3 + i * 15, width: 14, height: 14 }, style: { fill: patientColor[p] }, silent: true });
  graphic.push(txt(725, 46.5 + i * 15, p, '11px ' + FONT));
});
genotypeNames.forEach((g, i) => {
  graphic.push({ type: 'rect', shape: { x: 706, y: 108.3 + i * 15, width: 14, height: 14 }, style: { fill: genotypeColor[g] }, silent: true });
  graphic.push(txt(725, 115.5 + i * 15, g, '11px ' + FONT));
});

// ======================= OPTION =======================
const option = {
  animation: false,
  backgroundColor: '#fff',
  textStyle: { fontFamily: FONT },
  grid: grids,
  xAxis: xAxes,
  yAxis: yAxes,
  legend: [
    { data: genotypeNames, left: 231, top: 58, orient: 'vertical', icon: 'circle', itemWidth: 9, itemHeight: 9, itemGap: 3,
      selectedMode: false, textStyle: { fontSize: 10.5, fontFamily: FONT, color: '#111' } },
    { data: patientNames.map(p => ({ name: p, icon: patientSymbol[p] })), left: 231, top: 106.5, orient: 'vertical', itemWidth: 9, itemHeight: 9, itemGap: 3,
      selectedMode: false, textStyle: { fontSize: 10.5, fontFamily: FONT, color: '#111' } },
    { data: cdfNames.map(n => ({ name: n, icon: 'rect' })), left: 462, top: 520, orient: 'vertical', itemWidth: 17, itemHeight: 2.4, itemGap: 6,
      selectedMode: false, textStyle: { fontSize: 10.3, fontFamily: FONT, color: '#111', lineHeight: 12 } }
  ],
  visualMap: [
    { type: 'continuous', show: false, seriesIndex: idxHeatB, dimension: 2, min: 0, max: 0.1, inRange: { color: distanceColors } },
    { type: 'continuous', show: false, seriesIndex: idxStrip, dimension: 2, min: 1.3, max: 28.3, inRange: { color: pvalColors } },
    { type: 'continuous', show: false, seriesIndex: idxHeatF, dimension: 2, min: -1, max: 1, inRange: { color: corrColors } }
  ],
  graphic: graphic,
  series: series
};
const chart = echarts.init(document.getElementById('chart'), null, { renderer: 'canvas', width: 765, height: 968 });
chart.setOption(option);
</script>
</body>
</html>
